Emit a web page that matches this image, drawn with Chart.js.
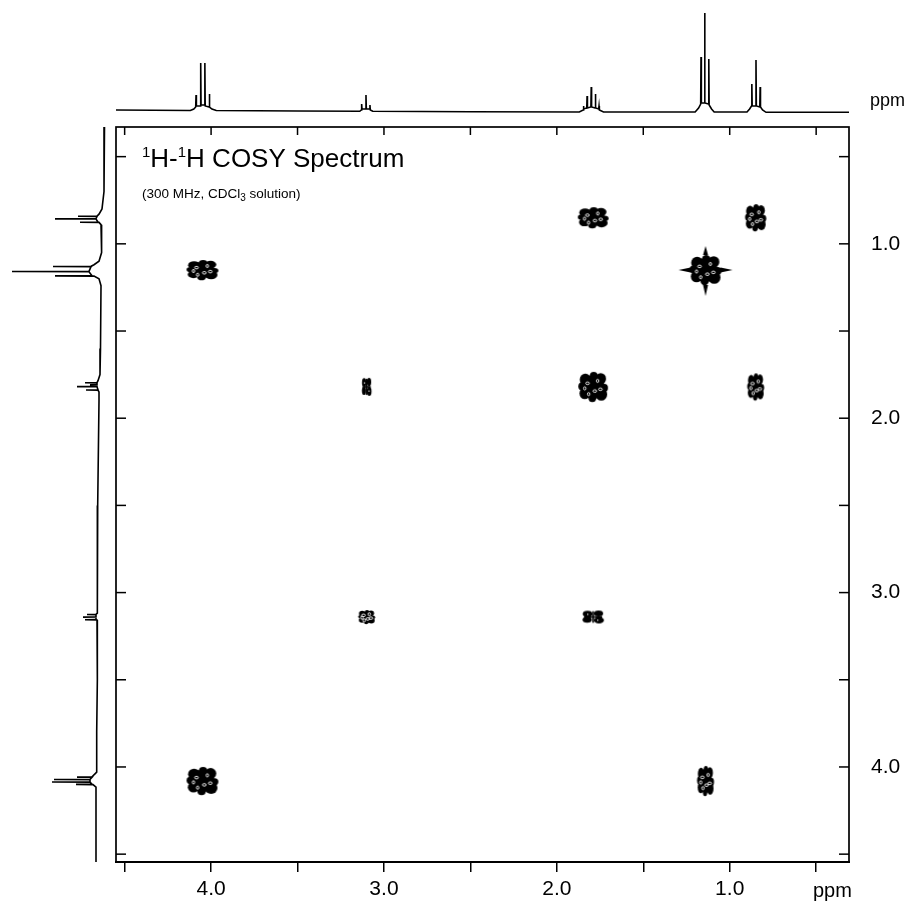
<!DOCTYPE html>
<html>
<head>
<meta charset="utf-8">
<script src="https://cdn.jsdelivr.net/npm/chart.js@4/dist/chart.umd.min.js"></script>
<style>
  html, body { margin: 0; padding: 0; background: #fff; }
  #wrap { position: relative; width: 917px; height: 902px; overflow: hidden; background: #fff; }
  #wrap canvas { position: absolute; left: 0; top: 0; }
</style>
</head>
<body>
<div id="wrap">
  <canvas id="main" width="917" height="902"></canvas>
  <canvas id="top" width="917" height="125"></canvas>
  <canvas id="left" width="120" height="902"></canvas>
</div>
<script>
// ---------------- DATA ----------------
// chemical-shift range shown on both axes (ppm)
const shiftFrom = 4.55;
const shiftTo = 0.31;
const vShiftFrom = 0.33;
const vShiftTo = 4.545;

// tick positions and labels (ppm)
const tickValues = [0.5, 1.0, 1.5, 2.0, 2.5, 3.0, 3.5, 4.0, 4.5];
const tickLabels = ['', '1.0', '', '2.0', '', '3.0', '', '4.0', ''];

// COSY cross / diagonal peaks (F2 ppm, F1 ppm)
const crossF2 = [1.79, 0.85, 4.05, 1.14, 3.10, 1.79, 0.85, 3.10, 1.79, 4.05, 1.14];
const crossF1 = [0.85, 0.85, 1.15, 1.15, 1.82, 1.82, 1.82, 3.14, 3.14, 4.08, 4.08];

// top 1D projection: shift (ppm) and intensity
const topShift = [4.55, 4.12, 4.10, 4.089, 4.087, 4.085, 4.062, 4.060, 4.058, 4.038, 4.036, 4.034, 4.012, 4.010, 4.008, 3.995, 3.97,
  3.50, 3.14, 3.131, 3.129, 3.127, 3.106, 3.104, 3.102, 3.083, 3.081, 3.079, 3.065,
  2.50, 1.87, 1.848, 1.846, 1.844, 1.827, 1.825, 1.823, 1.803, 1.801, 1.799, 1.779, 1.777, 1.775, 1.758, 1.756, 1.754, 1.73,
  1.20, 1.180, 1.168, 1.166, 1.164, 1.147, 1.145, 1.143, 1.123, 1.121, 1.119, 1.105, 1.09,
  0.90, 0.885, 0.874, 0.872, 0.870, 0.850, 0.848, 0.846, 0.826, 0.824, 0.822, 0.810, 0.79, 0.31];
const topIntensity = [1, 0.5, 2, 4, 16, 5, 5, 48, 6, 6, 48, 5, 4, 17, 4, 2, 0.5,
  0, -0.3, 1, 7, 2, 2, 16, 2, 2, 6, 1, -0.3,
  -0.8, -1, 1, 5, 2, 3, 15, 3, 4, 24, 4, 3, 17, 3, 2, 5, 1, -1,
  -1, 3, 7, 54, 8, 8, 98, 8, 7, 52, 6, 2, -1,
  -1, 2, 5, 27, 5, 5, 51, 5, 4, 24, 4, 1, -1.3, -1.3];

// left 1D projection: shift (ppm) and intensity
const leftShift = [0.33, 0.70, 0.80, 0.83, 0.841, 0.842, 0.843, 0.856, 0.857, 0.858, 0.875, 0.876, 0.877, 0.89, 0.93,
  1.05, 1.10, 1.12, 1.129, 1.130, 1.131, 1.158, 1.159, 1.160, 1.183, 1.184, 1.185, 1.20, 1.24,
  1.60, 1.75, 1.785, 1.796, 1.797, 1.798, 1.808, 1.809, 1.810, 1.818, 1.819, 1.820, 1.837, 1.838, 1.839, 1.85, 1.90,
  2.50, 3.10, 3.118, 3.125, 3.126, 3.127, 3.140, 3.141, 3.142, 3.155, 3.156, 3.157, 3.17, 3.50,
  3.80, 4.03, 4.045, 4.057, 4.058, 4.059, 4.071, 4.072, 4.073, 4.085, 4.086, 4.087, 4.099, 4.100, 4.101, 4.115, 4.13, 4.545];
const leftIntensity = [-0.5, 0, 2, 5, 7, 26, 7, 8, 49, 8, 6, 24, 5, 3, 2.3,
  2.5, 5, 10, 13, 51, 13, 15, 92, 15, 12, 49, 10, 5, 3,
  3.5, 4, 6, 7, 19, 7, 7, 14, 7, 7, 27, 7, 6, 18, 6, 5, 5,
  6.3, 6.3, 7, 8, 17, 8, 8, 21, 8, 8, 19, 7, 6.5, 6.8,
  7.3, 7.3, 10, 12, 27, 12, 14, 50, 14, 14, 52, 14, 12, 28, 11, 8, 8, 8];

// ---------------- STYLE ----------------
const FONT = "'Liberation Sans', Arial, Helvetica, sans-serif";
// blob footprint in px (w, h) and drawing kind: n normal, s streaked, w weak
const blobStyle = [
  [29, 21, 'n'], [20, 27, 'n'], [30, 20, 'n'], [30, 30, 's'], [9, 18, 'w'], [28, 30, 'n'],
  [16, 27, 'n'], [16, 14, 'n'], [20, 13, 'w'], [30, 28, 'n'], [16, 30, 'n']
];
// relative lump layout used to make the contour blobs look irregular
const lumpSet = [[-0.28, -0.24, 0.2], [0.27, -0.27, 0.19], [-0.3, 0.22, 0.19], [0.29, 0.25, 0.21],
  [0.02, -0.36, 0.14], [-0.03, 0.37, 0.14], [-0.4, -0.02, 0.13], [0.4, 0.03, 0.13]];
const holeSet = [[-0.2, -0.12], [0.16, -0.2], [0.06, 0.14], [-0.16, 0.24], [0.26, 0.08], [-0.3, 0.05]];

function makeBlob(w, h, kind) {
  const pad = kind === 's' ? 14 : 4;
  const c = document.createElement('canvas');
  c.width = Math.round(w + 2 * pad); c.height = Math.round(h + 2 * pad);
  const g = c.getContext('2d');
  const cx = c.width / 2, cy = c.height / 2;
  g.fillStyle = '#000'; g.strokeStyle = '#000';
  if (kind === 'w') {
    // broken, low-level contour pieces
    lumpSet.slice(0, 4).forEach(([fx, fy, r]) => {
      g.beginPath();
      g.ellipse(cx + fx * w, cy + fy * h, w * (r + 0.04), h * (r + 0.04), 0, 0, Math.PI * 2);
      g.fill();
    });
    g.lineWidth = 1.6;
    g.beginPath(); g.moveTo(cx - w * 0.45, cy); g.lineTo(cx + w * 0.45, cy); g.stroke();
    g.beginPath(); g.moveTo(cx, cy - h * 0.45); g.lineTo(cx, cy + h * 0.45); g.stroke();
    g.fillStyle = '#fff';
    g.fillRect(cx - w * 0.3, cy - h * 0.25, 1.2, 1.2);
    g.fillRect(cx + w * 0.2, cy + h * 0.2, 1.2, 1.2);
    return c;
  }
  g.beginPath(); g.ellipse(cx, cy, w * 0.4, h * 0.4, 0, 0, Math.PI * 2); g.fill();
  lumpSet.forEach(([fx, fy, r]) => {
    g.beginPath();
    g.ellipse(cx + fx * w, cy + fy * h, w * r, h * r, 0, 0, Math.PI * 2);
    g.fill();
  });
  if (kind === 's') {
    g.beginPath();
    g.moveTo(cx - w / 2 - 12, cy); g.lineTo(cx - w / 2, cy - 2.5); g.lineTo(cx - w / 2, cy + 2.5); g.closePath();
    g.moveTo(cx + w / 2 + 12, cy); g.lineTo(cx + w / 2, cy - 2.5); g.lineTo(cx + w / 2, cy + 2.5); g.closePath();
    g.moveTo(cx, cy - h / 2 - 9); g.lineTo(cx - 2.5, cy - h / 2); g.lineTo(cx + 2.5, cy - h / 2); g.closePath();
    g.moveTo(cx, cy + h / 2 + 11); g.lineTo(cx - 2.5, cy + h / 2); g.lineTo(cx + 2.5, cy + h / 2); g.closePath();
    g.fill();
  }
  g.strokeStyle = '#fff'; g.lineWidth = 0.9;
  holeSet.forEach(([fx, fy], k) => {
    g.beginPath();
    g.ellipse(cx + fx * w, cy + fy * h, k % 2 ? 1.2 : 1.8, k % 2 ? 1.6 : 1.3, 0, 0, Math.PI * 2);
    g.stroke();
  });
  return c;
}
const blobs = blobStyle.map(s => makeBlob(s[0], s[1], s[2]));

const labelFor = v => {
  const i = tickValues.findIndex(t => Math.abs(t - v) < 1e-6);
  return i >= 0 ? tickLabels[i] : '';
};

// ---------------- PLUGINS ----------------
const framePlugin = {
  id: 'frame',
  afterDraw(chart) {
    const { ctx, chartArea: a, scales } = chart;
    ctx.save();
    ctx.strokeStyle = '#000';
    ctx.lineWidth = 1.7;
    ctx.strokeRect(a.left, a.top, a.right - a.left, a.bottom - a.top);
    ctx.lineWidth = 2.2;
    ctx.beginPath(); ctx.moveTo(a.left - 1, a.bottom); ctx.lineTo(a.right + 1, a.bottom); ctx.stroke();
    // inward ticks: top, left, right
    ctx.lineWidth = 1.5;
    tickValues.forEach(v => {
      const px = scales.x.getPixelForValue(v);
      ctx.beginPath(); ctx.moveTo(px, a.top); ctx.lineTo(px, a.top + 8); ctx.stroke();
      const py = scales.y.getPixelForValue(v);
      ctx.beginPath(); ctx.moveTo(a.left, py); ctx.lineTo(a.left + 10, py); ctx.stroke();
      ctx.beginPath(); ctx.moveTo(a.right, py); ctx.lineTo(a.right - 10, py); ctx.stroke();
    });
    // title
    ctx.fillStyle = '#000';
    ctx.textBaseline = 'alphabetic';
    ctx.textAlign = 'left';
    let x = a.left + 26;
    const base = 167;
    const parts = [['1', true], ['H-', false], ['1', true], ['H COSY Spectrum', false]];
    parts.forEach(([t, sup]) => {
      ctx.font = (sup ? '15px ' : '26px ') + FONT;
      ctx.fillText(t, x, sup ? base - 10 : base);
      x += ctx.measureText(t).width;
    });
    // subtitle
    x = a.left + 26;
    const sb = 198;
    ctx.font = '13.5px ' + FONT;
    ctx.fillText('(300 MHz, CDCl', x, sb);
    x += ctx.measureText('(300 MHz, CDCl').width;
    ctx.font = '10px ' + FONT;
    ctx.fillText('3', x, sb + 3);
    x += ctx.measureText('3').width;
    ctx.font = '13.5px ' + FONT;
    ctx.fillText(' solution)', x, sb);
    // bottom axis unit
    ctx.font = '20px ' + FONT;
    ctx.fillText('ppm', 813, 897);
    ctx.restore();
  }
};

const unitPlugin = {
  id: 'unit',
  afterDraw(chart) {
    const ctx = chart.ctx;
    ctx.save();
    ctx.fillStyle = '#000';
    ctx.font = '18px ' + FONT;
    ctx.textBaseline = 'alphabetic';
    ctx.fillText('ppm', 870, 106);
    ctx.restore();
  }
};

// ---------------- MAIN 2D CHART ----------------
new Chart(document.getElementById('main'), {
  type: 'scatter',
  data: {
    datasets: [{
      label: 'COSY',
      data: crossF2.map((x, i) => ({ x, y: crossF1[i] })),
      pointStyle: ctx => blobs[ctx.dataIndex] || 'circle',
      pointRadius: 5,
      backgroundColor: '#000',
      borderColor: '#000'
    }]
  },
  options: {
    responsive: false,
    animation: false,
    events: [],
    layout: { padding: { left: 116, top: 127, right: 0, bottom: 0 } },
    plugins: { legend: { display: false }, tooltip: { enabled: false } },
    scales: {
      x: {
        type: 'linear', reverse: true, min: shiftTo, max: shiftFrom, position: 'bottom',
        afterBuildTicks: s => { s.ticks = tickValues.map(v => ({ value: v })); },
        afterFit: s => { s.height = 40; },
        ticks: { autoSkip: false, maxRotation: 0, padding: 5, color: '#000',
          font: { family: FONT, size: 21 }, callback: v => labelFor(v) },
        grid: { drawOnChartArea: false, drawTicks: true, tickLength: 10, color: '#000', lineWidth: 1.5 },
        border: { display: false }
      },
      y: {
        type: 'linear', reverse: true, min: vShiftFrom, max: vShiftTo, position: 'right',
        afterBuildTicks: s => { s.ticks = tickValues.map(v => ({ value: v })); },
        afterFit: s => { s.width = 68; },
        ticks: { autoSkip: false, padding: 22, color: '#000',
          font: { family: FONT, size: 21 }, callback: v => labelFor(v) },
        grid: { drawOnChartArea: false, drawTicks: false },
        border: { display: false }
      }
    }
  },
  plugins: [framePlugin]
});

// ---------------- TOP 1D SPECTRUM ----------------
new Chart(document.getElementById('top'), {
  type: 'scatter',
  data: {
    datasets: [{
      data: topShift.map((x, i) => ({ x, y: topIntensity[i] })),
      showLine: true, borderColor: '#000', borderWidth: 1.6, pointRadius: 0, tension: 0, clip: false
    }]
  },
  options: {
    responsive: false, animation: false, events: [],
    layout: { padding: { left: 116, right: 68, top: 11, bottom: 14 } },
    plugins: { legend: { display: false }, tooltip: { enabled: false } },
    scales: {
      x: { type: 'linear', reverse: true, min: shiftTo, max: shiftFrom, display: false },
      y: { type: 'linear', min: 0, max: 100, display: false }
    }
  },
  plugins: [unitPlugin]
});

// ---------------- LEFT 1D SPECTRUM ----------------
new Chart(document.getElementById('left'), {
  type: 'scatter',
  data: {
    datasets: [{
      data: leftShift.map((y, i) => ({ x: leftIntensity[i], y })),
      showLine: true, borderColor: '#000', borderWidth: 1.6, pointRadius: 0, tension: 0, clip: false
    }]
  },
  options: {
    responsive: false, animation: false, events: [],
    layout: { padding: { left: 4, right: 16, top: 127, bottom: 40 } },
    plugins: { legend: { display: false }, tooltip: { enabled: false } },
    scales: {
      x: { type: 'linear', reverse: true, min: 0, max: 100, display: false },
      y: { type: 'linear', reverse: true, min: vShiftFrom, max: vShiftTo, display: false }
    }
  }
});
</script>
</body>
</html>
